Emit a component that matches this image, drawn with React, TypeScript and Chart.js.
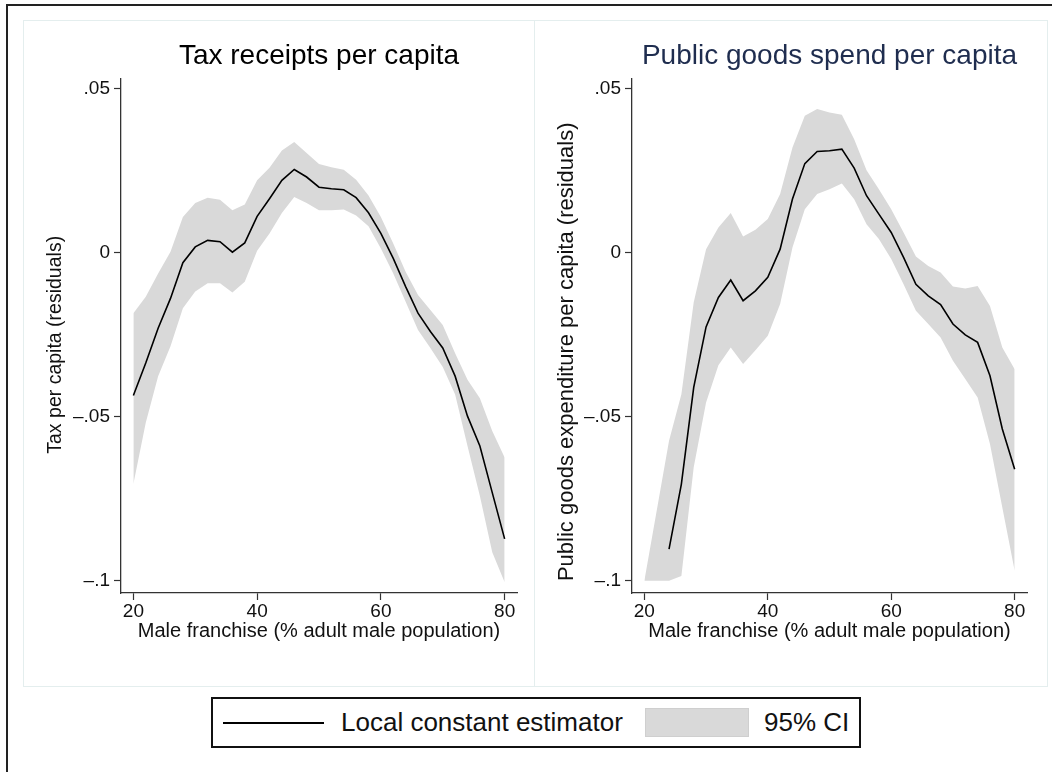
import React, { useEffect, useRef } from 'react';
import { Chart, registerables } from 'chart.js';

Chart.register(...registerables);

// ---------- data ----------
const xGrid = [20, 22, 24, 26, 28, 30, 32, 34, 36, 38, 40, 42, 44, 46, 48, 50, 52, 54, 56, 58, 60, 62, 64, 66, 68, 70, 72, 74, 76, 78, 80];

const taxEstimate = [-0.0435, -0.0336, -0.023, -0.0139, -0.003, 0.0018, 0.0038, 0.0034, 0.0002, 0.003, 0.0111, 0.0165, 0.0221, 0.0254, 0.0231, 0.02, 0.0195, 0.0192, 0.0168, 0.0122, 0.0059, -0.0017, -0.0103, -0.0184, -0.024, -0.029, -0.0376, -0.0498, -0.0589, -0.0731, -0.0872];
const taxUpper = [-0.0184, -0.0134, -0.0063, 0.0003, 0.0109, 0.0152, 0.0168, 0.0162, 0.013, 0.0147, 0.0221, 0.0259, 0.0312, 0.0338, 0.0304, 0.0271, 0.0261, 0.0253, 0.0223, 0.0175, 0.0109, 0.0028, -0.0058, -0.0129, -0.0174, -0.022, -0.0306, -0.0387, -0.0443, -0.0543, -0.0624];
const taxLower = [-0.0705, -0.0518, -0.0376, -0.0285, -0.0169, -0.0118, -0.0093, -0.0093, -0.0121, -0.0088, 0.0006, 0.0059, 0.0121, 0.017, 0.0152, 0.013, 0.013, 0.0132, 0.0114, 0.0081, 0.0013, -0.0063, -0.0149, -0.0235, -0.029, -0.0348, -0.0432, -0.0589, -0.0741, -0.0913, -0.1004];

const pubEstimate = [null, null, -0.0903, -0.0705, -0.041, -0.0226, -0.0136, -0.0083, -0.0146, -0.0116, -0.0075, 0.0011, 0.0164, 0.0272, 0.0309, 0.0311, 0.0316, 0.0258, 0.0174, 0.0118, 0.0062, -0.0014, -0.0096, -0.0131, -0.0158, -0.0217, -0.025, -0.0273, -0.0375, -0.0537, -0.066];
const pubUpper = [-0.1, -0.0786, -0.0573, -0.0431, -0.0151, 0.0011, 0.0077, 0.0121, 0.005, 0.007, 0.0103, 0.0179, 0.0321, 0.0418, 0.0438, 0.0428, 0.0421, 0.0346, 0.0252, 0.0194, 0.0133, 0.0062, -0.0011, -0.004, -0.006, -0.0103, -0.0109, -0.0101, -0.0162, -0.0289, -0.0355];
const pubLower = [-0.1, -0.1, -0.1, -0.0985, -0.0654, -0.0456, -0.0343, -0.0289, -0.0339, -0.0297, -0.0253, -0.0156, 0.0016, 0.0133, 0.0179, 0.0194, 0.0211, 0.0163, 0.0087, 0.0042, -0.0019, -0.0096, -0.0177, -0.0217, -0.0258, -0.0329, -0.0385, -0.0441, -0.0583, -0.0776, -0.0969];

const xTicks = [20, 40, 60, 80];
const yTicks = [-0.1, -0.05, 0, 0.05];
const yTickLabels = ['\u2013.1', '\u2013.05', '0', '.05'];

const xTitle = 'Male franchise (% adult male population)';
const legendLineLabel = 'Local constant estimator';
const legendBandLabel = '95% CI';

// ---------- styling ----------
const FONT = '"Liberation Sans", Arial, Helvetica, sans-serif';
const BAND = '#d9d9d9';
const AXIS = '#333333';

// draws the rotated y-axis title at a chosen position (Stata places it slightly below the axis centre)
const yTitlePlugin = {
  id: 'yTitleDraw',
  afterDraw(chart: any, _args: any, opts: any) {
    if (!opts || !opts.text) return;
    const ctx = chart.ctx;
    ctx.save();
    ctx.font = `${opts.size}px ${FONT}`;
    ctx.fillStyle = '#111';
    ctx.textAlign = 'center';
    ctx.textBaseline = 'middle';
    const area = chart.chartArea;
    const cy = (area.top + area.bottom) / 2 + opts.dy;
    ctx.translate(opts.x, cy);
    ctx.rotate(-Math.PI / 2);
    ctx.fillText(opts.text, 0, 0);
    ctx.restore();
  },
};

type PanelProps = {
  title: string;
  titleColor: string;
  yTitle: string;
  yTitleSize: number;
  yTitleDy: number;
  est: (number | null)[];
  upper: number[];
  lower: number[];
  width: number;
  height: number;
  rightPad: number;
};

function Panel(props: PanelProps) {
  const ref = useRef<HTMLCanvasElement | null>(null);
  useEffect(() => {
    if (!ref.current) return;
    const toPts = (arr: (number | null)[]) => xGrid.map((x, i) => ({ x, y: arr[i] }));
    const chart = new Chart(ref.current, {
      type: 'line',
      data: {
        datasets: [
          {
            label: legendLineLabel,
            data: toPts(props.est) as any,
            borderColor: '#000',
            borderWidth: 1.6,
            pointRadius: 0,
            fill: false,
            spanGaps: false,
            tension: 0,
          },
          {
            label: legendBandLabel,
            data: toPts(props.upper) as any,
            borderWidth: 0,
            borderColor: BAND,
            backgroundColor: BAND,
            pointRadius: 0,
            fill: '+1',
            tension: 0,
          },
          {
            label: 'lower',
            data: toPts(props.lower) as any,
            borderWidth: 0,
            borderColor: BAND,
            backgroundColor: BAND,
            pointRadius: 0,
            fill: false,
            tension: 0,
          },
        ],
      },
      plugins: [yTitlePlugin as any],
      options: {
        animation: false,
        responsive: false,
        maintainAspectRatio: false,
        layout: { padding: { left: 0, right: props.rightPad, top: 0, bottom: 0 } },
        plugins: {
          legend: { display: false },
          tooltip: { enabled: false },
          title: {
            display: true,
            text: props.title,
            fullSize: false,
            color: props.titleColor,
            font: { size: 28, family: FONT, weight: 'normal' as any },
            padding: { top: 18, bottom: 6 },
          },
          yTitleDraw: { text: props.yTitle, size: props.yTitleSize, x: 32, dy: props.yTitleDy },
        } as any,
        scales: {
          x: {
            type: 'linear',
            min: 18,
            max: 82,
            afterBuildTicks: (s: any) => {
              s.ticks = xTicks.map((v) => ({ value: v }));
            },
            afterFit: (s: any) => {
              s.height = 95;
            },
            grid: { display: true, drawOnChartArea: false, drawTicks: true, tickLength: 7, tickWidth: 1.2, tickColor: AXIS },
            border: { display: true, color: AXIS, width: 1.3 },
            ticks: {
              autoSkip: false,
              maxRotation: 0,
              padding: 0,
              color: '#111',
              font: { size: 19, family: FONT },
              callback: (v: any) => String(v),
            },
            title: {
              display: true,
              text: xTitle,
              color: '#111',
              font: { size: 20, family: FONT },
              padding: { top: 0, bottom: 45 },
            },
          },
          y: {
            type: 'linear',
            min: -0.1037,
            max: 0.0531,
            afterBuildTicks: (s: any) => {
              s.ticks = yTicks.map((v) => ({ value: v }));
            },
            afterFit: (s: any) => {
              s.width = 97;
            },
            grid: { display: true, drawOnChartArea: false, drawTicks: true, tickLength: 7, tickWidth: 1.2, tickColor: AXIS },
            border: { display: true, color: AXIS, width: 1.3 },
            ticks: {
              autoSkip: false,
              padding: 4,
              color: '#111',
              font: { size: 19, family: FONT },
              callback: (v: any) => {
                const i = yTicks.findIndex((t) => Math.abs(t - v) < 1e-9);
                return i >= 0 ? yTickLabels[i] : '';
              },
            },
            title: { display: false },
          },
        },
      },
    });
    return () => chart.destroy();
  }, []);
  return <canvas ref={ref} width={props.width} height={props.height} style={{ position: 'absolute', left: 0, top: 0 }} />;
}

export default function App() {
  const panelBorder = '1px solid #e4eeee';
  return (
    <div style={{ position: 'fixed', left: 0, top: 0, width: 1052, height: 772, overflow: 'hidden', background: '#fff', fontFamily: FONT }}>
      <div style={{ position: 'absolute', left: 6, top: 4, width: 1200, height: 900, border: '2px solid #222' }} />
      <div style={{ position: 'absolute', left: 23, top: 20, width: 512, height: 667, border: panelBorder, boxSizing: 'border-box', background: '#fff' }}>
        <Panel title="Tax receipts per capita" titleColor="#000" yTitle="Tax per capita (residuals)" yTitleSize={19.5} yTitleDy={9} est={taxEstimate} upper={taxUpper} lower={taxLower} width={512} height={667} rightPad={19} />
      </div>
      <div style={{ position: 'absolute', left: 535, top: 20, width: 513, height: 667, border: panelBorder, borderLeft: 'none', boxSizing: 'border-box', background: '#fff' }}>
        <Panel title="Public goods spend per capita" titleColor="#1f2d4f" yTitle="Public goods expenditure per capita (residuals)" yTitleSize={22} yTitleDy={16} est={pubEstimate} upper={pubUpper} lower={pubLower} width={513} height={667} rightPad={21} />
      </div>
      <div style={{ position: 'absolute', left: 211, top: 697, width: 650, height: 51, border: '2px solid #111', boxSizing: 'border-box', background: '#fff' }}>
        <div style={{ position: 'absolute', left: 10, top: 23, width: 101, height: 0, borderTop: '2px solid #000' }} />
        <div style={{ position: 'absolute', left: 128, top: 0, height: 47, lineHeight: '47px', fontSize: 26, color: '#111', whiteSpace: 'nowrap' }}>{legendLineLabel}</div>
        <div style={{ position: 'absolute', left: 432, top: 9, width: 104, height: 29, background: BAND, border: '1px solid #cfcfcf', boxSizing: 'border-box' }} />
        <div style={{ position: 'absolute', left: 551, top: 0, height: 47, lineHeight: '47px', fontSize: 26, color: '#111', whiteSpace: 'nowrap' }}>{legendBandLabel}</div>
      </div>
    </div>
  );
}
